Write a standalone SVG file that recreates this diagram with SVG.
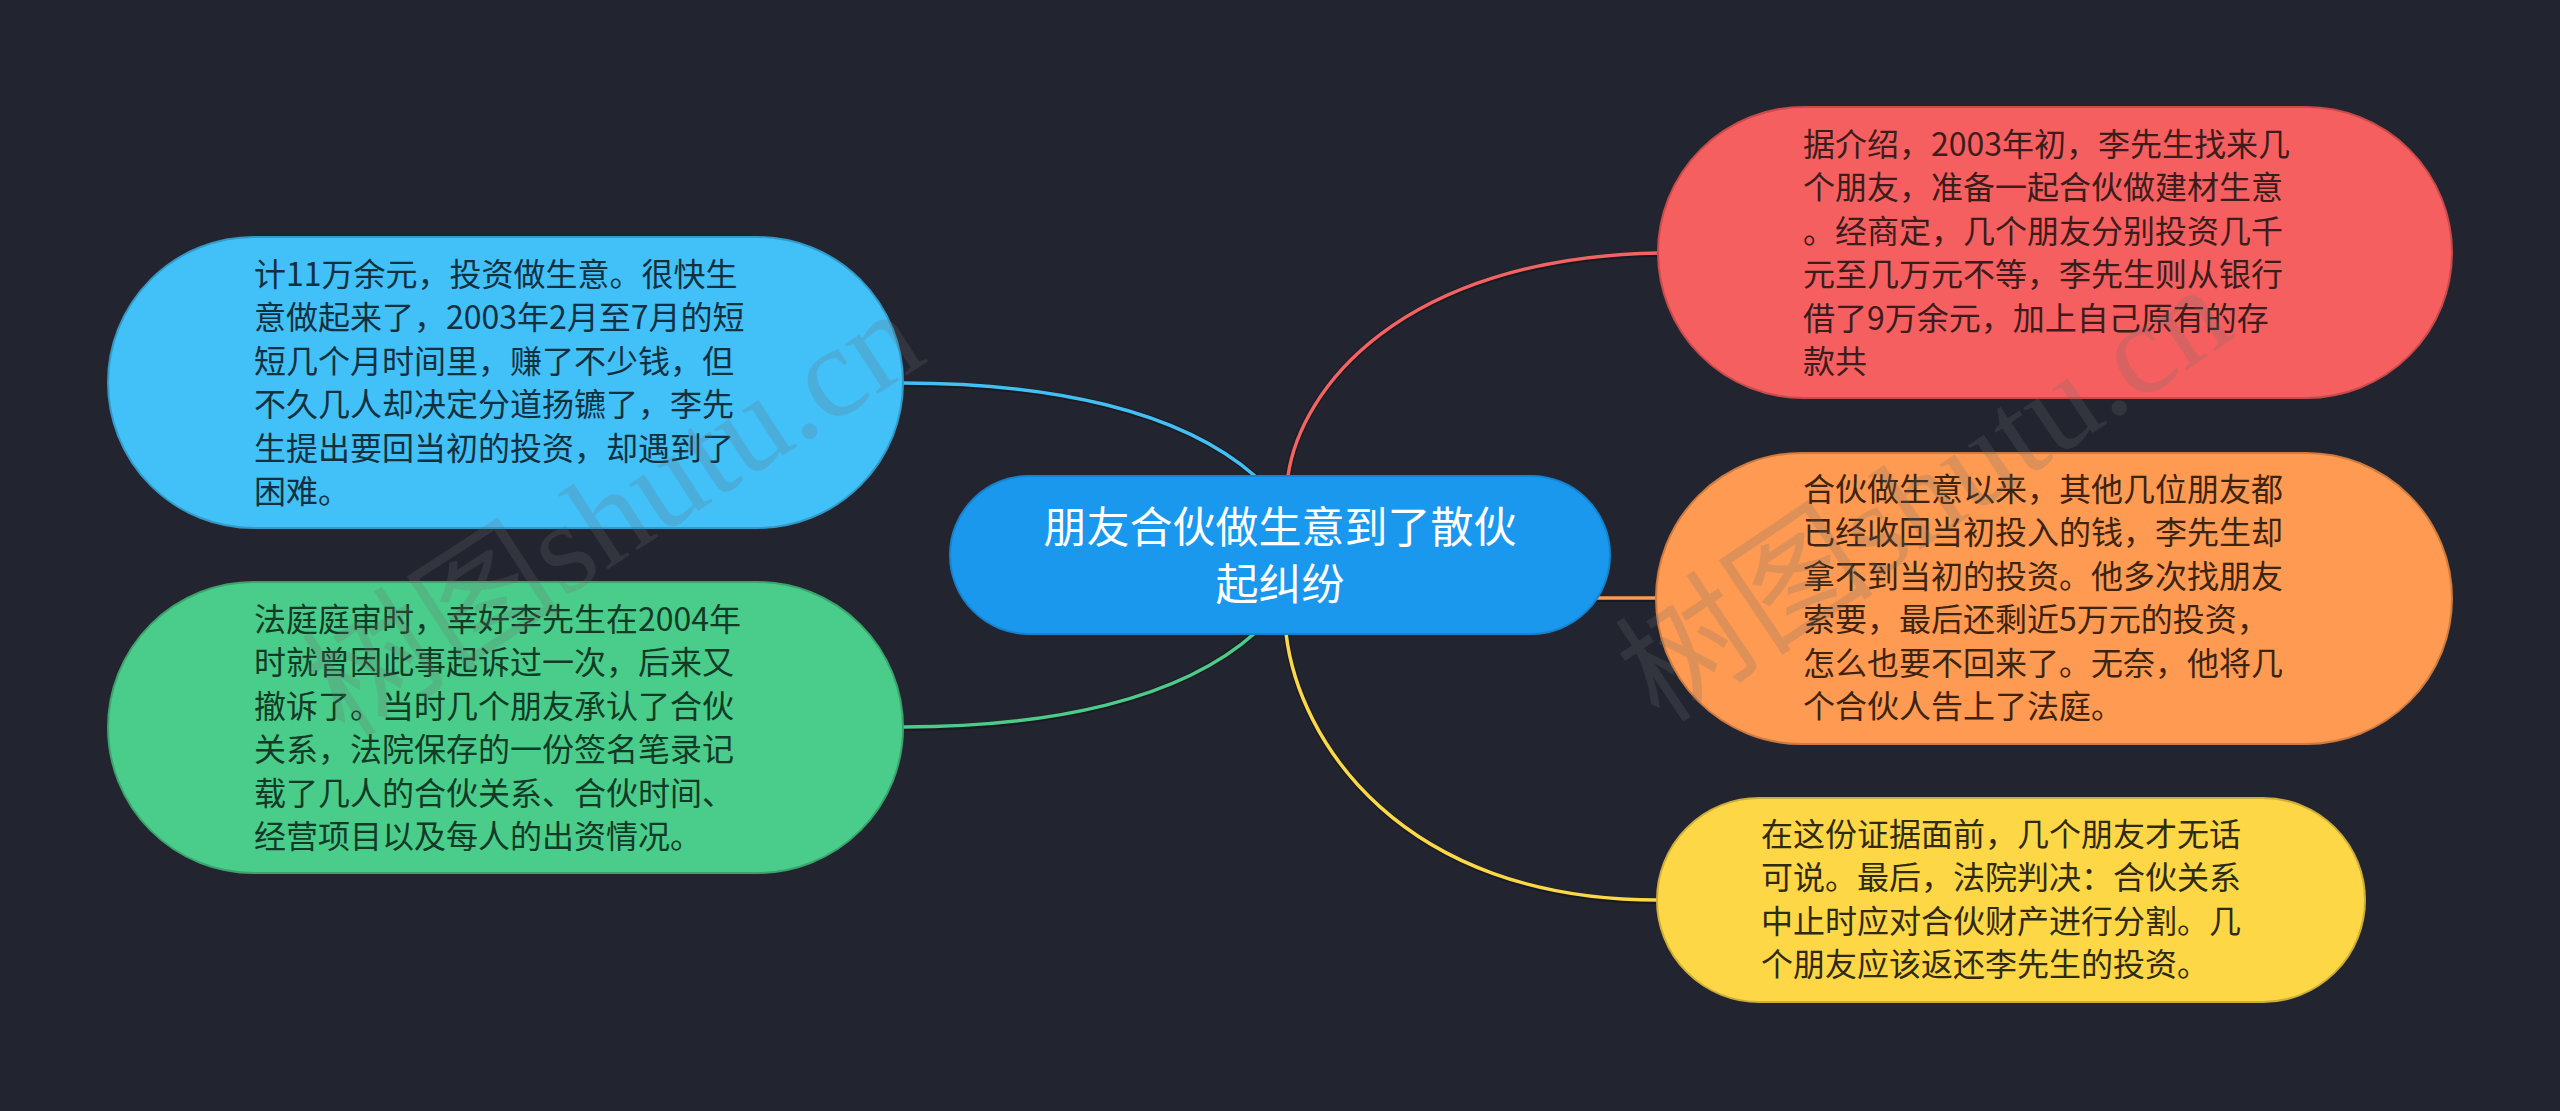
<svg xmlns="http://www.w3.org/2000/svg" width="2560" height="1111" viewBox="0 0 2560 1111">
<style>
.bg{fill:#22252f}
.conn{fill:none;stroke-width:3.5;stroke-linecap:round}
.shadow{fill:none;stroke:#15171e;stroke-width:6;stroke-linecap:round;opacity:0.7}
.node{stroke-width:2}
.t{font-family:"Noto Sans CJK SC","Noto Sans",sans-serif;font-size:32px}
.main{font-family:"Noto Sans CJK SC","Noto Sans",sans-serif;font-size:43px;fill:#ffffff;text-anchor:middle}
.wm{font-family:"Liberation Serif","Noto Sans CJK SC",serif;font-size:130px;fill:#6e6e6e;opacity:0.22}
</style>
<rect class="bg" x="0" y="0" width="2560" height="1111"/>

<g id="connectors">
  <path class="shadow" d="M1255,476 C1180,410 1050,384 903,384"/>
  <path class="conn" stroke="#43bff5" d="M1255,476 C1180,410 1050,383 903,383"/>
  <path class="shadow" d="M1255,633 C1180,700 1050,728 903,728"/>
  <path class="conn" stroke="#4ccb8a" d="M1255,633 C1180,700 1050,727 903,727"/>
  <path class="shadow" d="M1288,476 C1300,390 1400,259 1658,254"/>
  <path class="conn" stroke="#f36363" d="M1288,476 C1300,390 1400,258 1658,253"/>
  <path class="shadow" d="M1597,599 L1656,599"/>
  <path class="conn" stroke="#fc9a57" d="M1597,598 L1656,598"/>
  <path class="shadow" d="M1286,633 C1298,740 1400,901 1658,901"/>
  <path class="conn" stroke="#fbd84a" d="M1286,633 C1298,740 1400,900 1658,900"/>
</g>

<g id="node-center">
  <rect class="node" x="950" y="476" width="660" height="158" rx="79" fill="#1a98ee" stroke="#1583cf"/>
  <text class="main"><tspan x="1280" y="543">朋友合伙做生意到了散伙</tspan><tspan x="1280" y="600">起纠纷</tspan></text>
</g>

<g id="node-red">
  <rect class="node" x="1658" y="107" width="794" height="291" rx="145.5" fill="#f65f5f" stroke="#c94a4a"/>
  <text class="t" fill="#3b1d1d">
    <tspan x="1803" y="156">据介绍，2003年初，李先生找来几</tspan>
    <tspan x="1803" y="199.4">个朋友，准备一起合伙做建材生意</tspan>
    <tspan x="1803" y="242.8">。经商定，几个朋友分别投资几千</tspan>
    <tspan x="1803" y="286.2">元至几万元不等，李先生则从银行</tspan>
    <tspan x="1803" y="329.6">借了9万余元，加上自己原有的存</tspan>
    <tspan x="1803" y="373">款共</tspan>
  </text>
</g>

<g id="node-orange">
  <rect class="node" x="1656" y="453" width="796" height="291" rx="145.5" fill="#fe9a52" stroke="#cf7b40"/>
  <text class="t" fill="#3d2411">
    <tspan x="1803" y="501">合伙做生意以来，其他几位朋友都</tspan>
    <tspan x="1803" y="544.4">已经收回当初投入的钱，李先生却</tspan>
    <tspan x="1803" y="587.8">拿不到当初的投资。他多次找朋友</tspan>
    <tspan x="1803" y="631.2">索要，最后还剩近5万元的投资，</tspan>
    <tspan x="1803" y="674.6">怎么也要不回来了。无奈，他将几</tspan>
    <tspan x="1803" y="718">个合伙人告上了法庭。</tspan>
  </text>
</g>

<g id="node-yellow">
  <rect class="node" x="1657" y="798" width="708" height="204" rx="102" fill="#fed746" stroke="#cdae38"/>
  <text class="t" fill="#2f2a12">
    <tspan x="1761" y="846">在这份证据面前，几个朋友才无话</tspan>
    <tspan x="1761" y="889.4">可说。最后，法院判决：合伙关系</tspan>
    <tspan x="1761" y="932.8">中止时应对合伙财产进行分割。几</tspan>
    <tspan x="1761" y="976.2">个朋友应该返还李先生的投资。</tspan>
  </text>
</g>

<g id="node-blue">
  <rect class="node" x="108" y="237" width="795" height="291" rx="145.5" fill="#42c0f8" stroke="#3399c6"/>
  <text class="t" fill="#13303e">
    <tspan x="254" y="286">计11万余元，投资做生意。很快生</tspan>
    <tspan x="254" y="329.4">意做起来了，2003年2月至7月的短</tspan>
    <tspan x="254" y="372.8">短几个月时间里，赚了不少钱，但</tspan>
    <tspan x="254" y="416.2">不久几人却决定分道扬镳了，李先</tspan>
    <tspan x="254" y="459.6">生提出要回当初的投资，却遇到了</tspan>
    <tspan x="254" y="503">困难。</tspan>
  </text>
</g>

<g id="node-green">
  <rect class="node" x="108" y="582" width="795" height="291" rx="145.5" fill="#4acd8a" stroke="#3ba46e"/>
  <text class="t" fill="#133a27">
    <tspan x="254" y="631">法庭庭审时，幸好李先生在2004年</tspan>
    <tspan x="254" y="674.4">时就曾因此事起诉过一次，后来又</tspan>
    <tspan x="254" y="717.8">撤诉了。当时几个朋友承认了合伙</tspan>
    <tspan x="254" y="761.2">关系，法院保存的一份签名笔录记</tspan>
    <tspan x="254" y="804.6">载了几人的合伙关系、合伙时间、</tspan>
    <tspan x="254" y="848">经营项目以及每人的出资情况。</tspan>
  </text>
</g>

<g id="watermarks">
  <text class="wm" x="345" y="740" transform="rotate(-33 345 740)">树图shutu.cn</text>
  <text class="wm" x="1660" y="725" transform="rotate(-34 1660 725)">树图shutu.cn</text>
</g>
</svg>
